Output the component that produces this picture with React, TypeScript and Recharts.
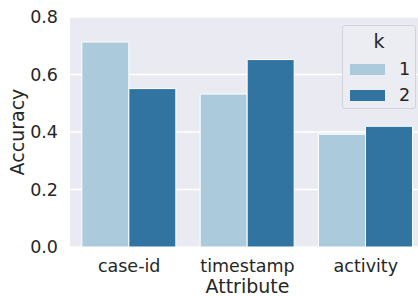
import React from "react";
import {
  Bar,
  BarChart,
  CartesianGrid,
  XAxis,
  YAxis,
} from "recharts";

const ATTRIBUTES = ["case-id", "timestamp", "activity"];
const K1_VALUES = [0.713, 0.532, 0.392];
const K2_VALUES = [0.551, 0.652, 0.42];
const Y_TICKS = [0, 0.2, 0.4, 0.6, 0.8];

const COLOR_K1 = "#abcbdd";
const COLOR_K2 = "#3274a1";
const TEXT = "#262626";
const FONT = "DejaVu Sans, sans-serif";

const data = ATTRIBUTES.map((attribute, i) => ({
  attribute,
  k1: K1_VALUES[i],
  k2: K2_VALUES[i],
}));

function KLegend(): React.JSX.Element {
  const row = (color: string, label: string) => (
    <div style={{ display: "flex", alignItems: "center", height: 26 }}>
      <div style={{ width: 35, height: 11, background: color, marginLeft: 7 }} />
      <span style={{ marginLeft: 14, fontSize: 17.5 }}>{label}</span>
    </div>
  );
  return (
    <div
      style={{
        position: "absolute",
        left: 342,
        top: 25,
        width: 74,
        height: 84,
        border: "1px solid #d3d3db",
        borderRadius: 3,
        background: "#ececf3",
        fontFamily: FONT,
        color: TEXT,
        boxSizing: "border-box",
      }}
    >
      <div style={{ textAlign: "center", fontSize: 19, height: 30, lineHeight: "30px" }}>k</div>
      {row(COLOR_K1, "1")}
      {row(COLOR_K2, "2")}
    </div>
  );
}

export default function App(): React.JSX.Element {
  return (
    <div
      style={{
        position: "fixed",
        left: 0,
        top: 0,
        width: 418,
        height: 297,
        overflow: "hidden",
        background: "#ffffff",
      }}
    >
      <BarChart
        width={425}
        height={297}
        data={data}
        margin={{ top: 17, right: 0, left: 0, bottom: 0 }}
        barCategoryGap="10%"
        barGap={0}
      >
        <CartesianGrid
          fill="#eaeaf2"
          stroke="#ffffff"
          strokeWidth={1.5}
          vertical={false}
          horizontalValues={Y_TICKS}
        />
        <XAxis
          dataKey="attribute"
          height={50}
          axisLine={false}
          tickLine={false}
          tickSize={0}
          tickMargin={13}
          tick={{ fontSize: 17.5, fill: TEXT, fontFamily: FONT }}
          label={{
            value: "Attribute",
            position: "insideBottom",
            offset: 4,
            fontSize: 19,
            fill: TEXT,
            fontFamily: FONT,
          }}
        />
        <YAxis
          width={70}
          domain={[0, 0.8]}
          ticks={Y_TICKS}
          tickFormatter={(v: number) => v.toFixed(1)}
          axisLine={false}
          tickLine={false}
          tickSize={0}
          tickMargin={12}
          tick={{ fontSize: 17.5, fill: TEXT, fontFamily: FONT }}
          label={{
            value: "Accuracy",
            angle: -90,
            position: "center",
            dx: -18,
            fontSize: 19,
            fill: TEXT,
            fontFamily: FONT,
          }}
        />
        <Bar dataKey="k1" fill={COLOR_K1} stroke="#ffffff" strokeWidth={1} isAnimationActive={false} />
        <Bar dataKey="k2" fill={COLOR_K2} stroke="#ffffff" strokeWidth={1} isAnimationActive={false} />
      </BarChart>
      <KLegend />
    </div>
  );
}
